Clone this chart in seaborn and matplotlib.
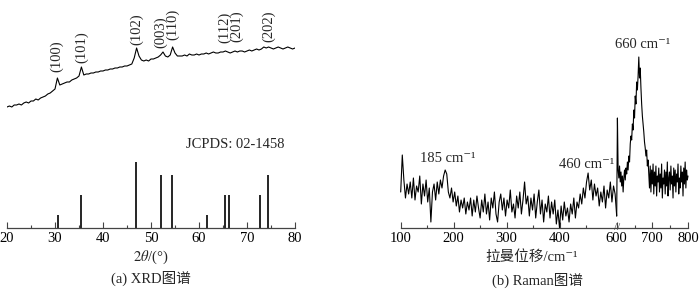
import numpy as np
import matplotlib
matplotlib.use('Agg')
import matplotlib.pyplot as plt
from matplotlib.ticker import MultipleLocator, FixedLocator
import seaborn as sns

# XRD pattern, 20-80 deg, step 0.5 (intensity a.u.)
xrd_start, xrd_step = 20.0, 0.5
xrd_counts = [121, 122, 121, 123, 123, 124, 123, 125, 126, 125,
              127, 127, 129, 128, 130, 131, 132, 134, 135, 137,
              139, 150, 143, 144, 145, 146, 146, 148, 149, 150,
              152, 161, 153, 154, 154, 155, 155, 156, 156, 157,
              157, 158, 158, 159, 159, 160, 160, 161, 161, 162,
              162, 163, 164, 170, 180, 172, 168, 167, 168, 167,
              169, 169, 170, 171, 173, 176, 172, 171, 173, 181,
              175, 172, 172, 172, 173, 172, 174, 173, 173, 174,
              173, 174, 174, 175, 174, 175, 176, 175, 175, 176,
              176, 177, 176, 175, 176, 177, 176, 177, 177, 176,
              177, 178, 177, 178, 179, 178, 179, 181, 180, 181,
              180, 179, 180, 181, 180, 179, 180, 181, 180, 179,
              180]

# JCPDS 02-1458 reference lines
jcpds_pos = [30.7, 35.4, 46.8, 52.0, 54.4, 61.7, 65.5, 66.2, 72.7, 74.4]
jcpds_int = [20, 50, 100, 80, 80, 20, 50, 50, 50, 80]

hkl_labels = ['(100)', '(101)', '(102)', '(003)', '(110)', '(112)', '(201)', '(202)']
hkl_pos = [30.4, 35.5, 47.0, 52.1, 54.6, 65.4, 67.9, 74.6]
hkl_height = [156, 165, 183, 180, 188, 185, 186, 186]

# Raman spectrum, low part 100-508 step 3, high part 600-800 step 2
raman_low_start, raman_low_step = 100, 3
raman_low = [36, 73, 48, 30, 44, 34, 46, 30, 50, 28,
             42, 36, 52, 24, 44, 32, 48, 26, 40, 6,
             36, 44, 28, 46, 34, 48, 40, 52, 58, 54,
             36, 30, 40, 26, 36, 22, 32, 16, 28, 20,
             30, 14, 26, 18, 30, 12, 28, 16, 32, 20,
             10, 28, 16, 34, 14, 26, 8, 30, 20, 36,
             14, 6, 26, 34, 18, 30, 12, 28, 20, 38,
             16, 24, 10, 32, 20, 36, 14, 28, 46, 24,
             32, 12, 30, 18, 34, 10, 26, 38, 14, 28,
             6, 24, 16, 32, 10, 26, 14, 28, 4, 18,
             0, 22, 8, 26, 12, 20, 6, 24, 14, 30,
             10, 26, 20, 34, 24, 40, 30, 46, 55, 38,
             48, 28, 44, 32, 40, 22, 36, 26, 42, 20,
             38, 30, 46, 26, 42, 34, 12]
raman_high_start, raman_high_step = 600, 2
raman_high = [12, 110, 58, 50, 62, 46, 56, 42, 52, 36,
              50, 58, 48, 60, 54, 66, 58, 72, 66, 84,
              92, 88, 104, 98, 118, 110, 132, 124, 146, 138,
              152, 171, 150, 160, 140, 124, 112, 104, 96, 86,
              80, 72, 78, 62, 68, 54, 40, 62, 36, 58,
              44, 64, 34, 56, 42, 62, 32, 52, 46, 60,
              36, 54, 40, 64, 30, 50, 44, 58, 34, 56,
              42, 66, 32, 50, 56, 38, 62, 44, 52, 30,
              60, 42, 58, 36, 54, 46, 64, 34, 50, 40,
              62, 46, 56, 32, 60, 44, 66, 40, 58, 48,
              52]

raman_notes = ['185 cm⁻¹', '460 cm⁻¹']
raman_notes_x = [189, 451]
raman_notes_y = [70, 64]
peak_note, peak_note_x, peak_note_y = '660 cm⁻¹', 674, 184

sns.set_theme(style='white')
plt.rcParams['font.family'] = ['Liberation Serif', 'Noto Sans CJK SC', 'DejaVu Serif']
plt.rcParams['mathtext.fontset'] = 'stix'
fs = 10.5
axis_col = '#444444'

fig = plt.figure(figsize=(7, 2.91), dpi=100)
W, H = 700, 291


def style_axis(ax):
    for s in ['left', 'right', 'top']:
        ax.spines[s].set_visible(False)
    ax.spines['bottom'].set_color(axis_col)
    ax.spines['bottom'].set_linewidth(0.9)
    ax.set_yticks([])
    ax.set_ylim(0, 228)
    ax.patch.set_alpha(0)
    ax.tick_params(axis='x', which='major', direction='in', length=4, width=0.8,
                   colors=axis_col, labelcolor='black', labelsize=fs, pad=3, bottom=True)
    ax.tick_params(axis='x', which='minor', direction='in', length=2.5, width=0.8,
                   colors=axis_col, bottom=True)
    ax.set_xlabel('')
    ax.set_ylabel('')


# (a) XRD
ax = fig.add_axes([7 / W, 63 / H, 288 / W, 228 / H])
xrd_x = xrd_start + xrd_step * np.arange(len(xrd_counts))
sns.lineplot(x=xrd_x, y=xrd_counts, ax=ax, color='black', lw=0.8, sort=False)
ax.vlines(jcpds_pos, 0, np.array(jcpds_int) * 0.66, color='black', lw=1.2)
for lab, px, py in zip(hkl_labels, hkl_pos, hkl_height):
    ax.text(px, py, lab, rotation=90, ha='center', va='bottom', fontsize=fs)
ax.text(67.5, 84, 'JCPDS: 02-1458', ha='center', va='center', fontsize=fs)
ax.set_xlim(20, 80)
ax.xaxis.set_major_locator(MultipleLocator(10))
ax.xaxis.set_minor_locator(MultipleLocator(5))
style_axis(ax)

fig.text(151 / W, 1 - 257 / H, r'$\mathit{2\theta}$/(°)', ha='center', va='center', fontsize=fs)
fig.text(151 / W, 1 - 278 / H, '(a) XRD图谱', ha='center', va='center', fontsize=fs)

# (b) Raman, broken axis
ax_l = fig.add_axes([400.7 / W, 63 / H, 216 / W, 228 / H])
low_x = raman_low_start + raman_low_step * np.arange(len(raman_low))
sns.lineplot(x=low_x, y=raman_low, ax=ax_l, color='black', lw=0.8, sort=False)
for t, tx, ty in zip(raman_notes, raman_notes_x, raman_notes_y):
    ax_l.text(tx, ty, t, ha='center', va='center', fontsize=fs)
ax_l.set_xlim(100, 508)
ax_l.xaxis.set_major_locator(FixedLocator([100, 200, 300, 400]))
ax_l.xaxis.set_minor_locator(FixedLocator([150, 250, 350, 450]))
style_axis(ax_l)
ax_l.text(1.0, 0.0, '//', transform=ax_l.transAxes, ha='center', va='center',
          fontsize=8, color=axis_col)

ax_r = fig.add_axes([616.7 / W, 63 / H, 71.3 / W, 228 / H])
high_x = raman_high_start + raman_high_step * np.arange(len(raman_high))
sns.lineplot(x=high_x, y=raman_high, ax=ax_r, color='black', lw=0.8, sort=False)
ax_r.text(peak_note_x, peak_note_y, peak_note, ha='center', va='center', fontsize=fs)
ax_r.set_xlim(600, 800)
ax_r.xaxis.set_major_locator(MultipleLocator(100))
ax_r.xaxis.set_minor_locator(MultipleLocator(50))
style_axis(ax_r)
for line in ax_l.lines + ax_r.lines:
    line.set_clip_on(False)

fig.text(532 / W, 1 - 257 / H, '拉曼位移/cm⁻¹', ha='center', va='center', fontsize=fs)
fig.text(537 / W, 1 - 280 / H, '(b) Raman图谱', ha='center', va='center', fontsize=fs)

fig.savefig('out.png', dpi=100)
